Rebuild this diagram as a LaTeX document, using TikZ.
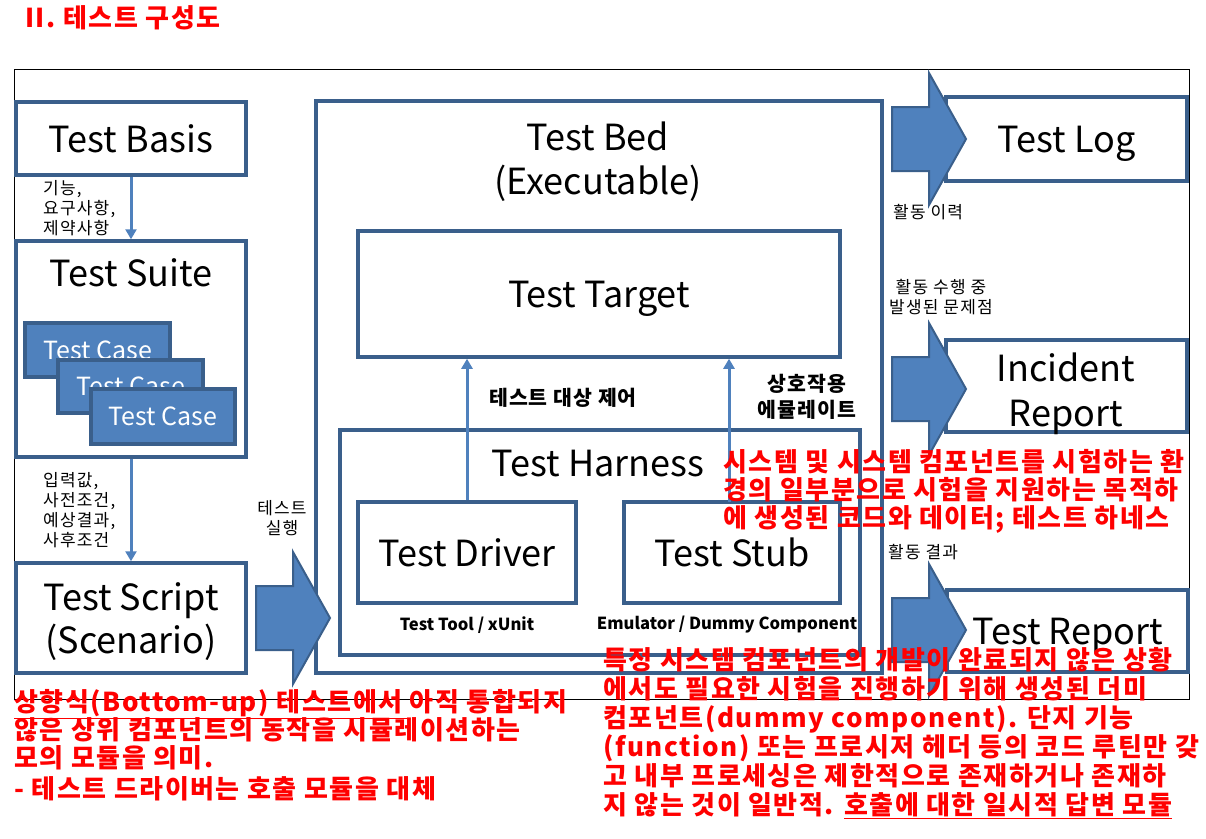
\documentclass[tikz,border=0pt]{standalone}
\usepackage{fontspec}
\setmainfont{Noto Sans CJK KR}
\usetikzlibrary{arrows.meta}
\definecolor{bdr}{HTML}{3A5F8B}
\definecolor{acc}{HTML}{4F81BD}
\definecolor{redtx}{HTML}{FF0000}
\newcommand\blockarr[2]{%
  \draw[blk] (#1-74,#2-32) -- (#1-37,#2-32) -- (#1-37,#2-66) -- (#1,#2)
    -- (#1-37,#2+66) -- (#1-37,#2+32) -- (#1-74,#2+32) -- cycle;}
\tikzset{
  box/.style={draw=bdr, line width=3.5pt, fill=white, inner sep=0pt},
  tcase/.style={draw=bdr, line width=3.5pt, fill=acc, text=white, inner sep=0pt,
    minimum width=145pt, font=\fontsize{25}{30}\selectfont},
  conn/.style={draw=acc, line width=3pt, -{Triangle[width=11pt,length=10pt]}},
  blk/.style={fill=acc, draw=bdr, line width=2pt, line join=miter},
  big/.style={font=\fontsize{36}{44}\selectfont, inner sep=0pt, align=center},
  one/.style={text height=27pt, text depth=0pt},
  lbl/.style={font=\fontsize{17}{20}\selectfont\addfontfeature{LetterSpace=7}, inner sep=0pt},
  blbl/.style={font=\bfseries\fontsize{20.5}{26}\selectfont\addfontfeature{LetterSpace=5}, inner sep=0pt, align=center},
  tool/.style={font=\bfseries\fontsize{16.6}{18}\selectfont, inner sep=0pt},
  redl/.style={text=redtx, font=\bfseries\fontsize{26}{29}\selectfont\addfontfeature{LetterSpace=6}, anchor=base west, inner sep=0pt},
}
\begin{document}
\begin{tikzpicture}[x=1pt,y=-1pt]
\useasboundingbox (0,0) rectangle (1206,838);
\fill[white] (0,0) rectangle (1206,838);
% outer frame
\draw[black, line width=1pt] (14,69) rectangle (1189,699);
% main boxes
\node[box, minimum width=566pt, minimum height=572pt] (bed) at (599,387) {};
\node[box, minimum width=482pt, minimum height=126pt, big, one] (target) at (599,294) {Test Target};
\node[box, minimum width=520pt, minimum height=225pt] (harness) at (600,542.5) {};
\node[box, minimum width=218pt, minimum height=101pt, big, one] (driver) at (467,552.5) {Test Driver};
\node[box, minimum width=216pt, minimum height=101pt, big, one] (stub) at (732,552.5) {Test Stub};
\node[box, minimum width=230pt, minimum height=73pt, big, one] (basis) at (131,138.5) {Test Basis};
\node[box, minimum width=230pt, minimum height=216pt] (suite) at (131,349) {};
\node[tcase, minimum height=54pt] (tc1) at (97.5,350) {Test Case};
\node[tcase, minimum height=53pt] (tc2) at (130.5,386.5) {Test Case};
\node[tcase, minimum width=144pt, minimum height=55pt] (tc3) at (163,416.5) {Test Case};
\node[box, minimum width=230pt, minimum height=110pt] (script) at (131,618) {};
\node[box, minimum width=241pt, minimum height=84pt, big, one] (log) at (1066.5,139) {Test Log};
\node[box, minimum width=241pt, minimum height=92pt] (incident) at (1066.5,386) {};
\node[box, minimum width=241pt, minimum height=82pt, big, one] (report) at (1067.5,631) {Test Report};
% titles inside containers
\node[big] (bedt) at (598,162) {Test Bed\\(Executable)};
\node[big, one] (suitet) at (131,273) {Test Suite};
\node[big, one] (harnesst) at (598,463) {Test Harness};
\node[big, font=\fontsize{36}{43}\selectfont] (scriptt) at (131,622) {Test Script\\(Scenario)};
\node[big, font=\fontsize{36}{45}\selectfont] (incidentt) at (1066,394) {Incident\\Report};
% connectors
\draw[conn] (basis.south) -- (suite.north);
\draw[conn] (suite.south) -- (script.north);
\draw[conn] (driver.north) -- (driver.north |- target.south);
\coordinate (stubtop) at (729,502);
\draw[conn] (stubtop) -- (stubtop |- target.south);
% block arrows
\blockarr{330}{618}
\blockarr{966}{139}
\blockarr{966}{389}
\blockarr{966}{630}
% labels
\node[lbl, align=left, anchor=west] (l1) at (43,208) {기능,\\요구사항,\\제약사항};
\node[lbl, align=left, anchor=west] (l2) at (43,510) {입력값,\\사전조건,\\예상결과,\\사후조건};
\node[lbl, align=center] (l3) at (282,518) {테스트\\실행};
\node[lbl, anchor=west] (l4) at (893,212) {활동 이력};
\node[lbl, align=center] (l5) at (941,297) {활동 수행 중\\발생된 문제점};
\node[lbl, anchor=west] (l6) at (888,552) {활동 결과};
\node[blbl] (b1) at (563,398) {테스트 대상 제어};
\node[blbl] (b2) at (807,397) {상호작용\\에뮬레이트};
\node[tool] (t1) at (467,625) {Test Tool / xUnit};
\node[tool] (t2) at (727,625) {Emulator / Dummy Component};
% red texts
\node[redl] (title) at (25,27) {II. 테스트 구성도};
\node[redl] (ra1) at (723,471) {시스템 및 시스템 컴포넌트를 시험하는 환};
\node[redl] (ra2) at (723,499) {경의 일부분으로 시험을 지원하는 목적하};
\node[redl] (ra3) at (723,527) {에 생성된 코드와 데이터; 테스트 하네스};
\node[redl] (rb1) at (14,711) {\underline{상향식(Bottom-up) 테스트에서\ }아직 통합되지};
\node[redl] (rb2) at (14,739) {않은 상위 컴포넌트의 동작을 시뮬레이션하는};
\node[redl] (rb3) at (14,767) {모의 모듈을 의미.};
\node[redl] (rb4) at (14,798) {- 테스트 드라이버는 호출 모듈을 대체};
\node[redl] (rc1) at (603,669) {특정 시스템 컴포넌트의 개발이 완료되지 않은 상황};
\node[redl] (rc2) at (603,698) {에서도 필요한 시험을 진행하기 위해 생성된 더미};
\node[redl] (rc3) at (603,727) {컴포넌트(dummy component). 단지 기능};
\node[redl] (rc4) at (603,756) {(function) 또는 프로시저 헤더 등의 코드 루틴만 갖};
\node[redl] (rc5) at (603,785) {고 내부 프로세싱은 제한적으로 존재하거나 존재하};
\node[redl] (rc6) at (603,814) {지 않는 것이 일반적. \underline{호출에 대한 일시적 답변 모듈}};
\end{tikzpicture}
\end{document}
